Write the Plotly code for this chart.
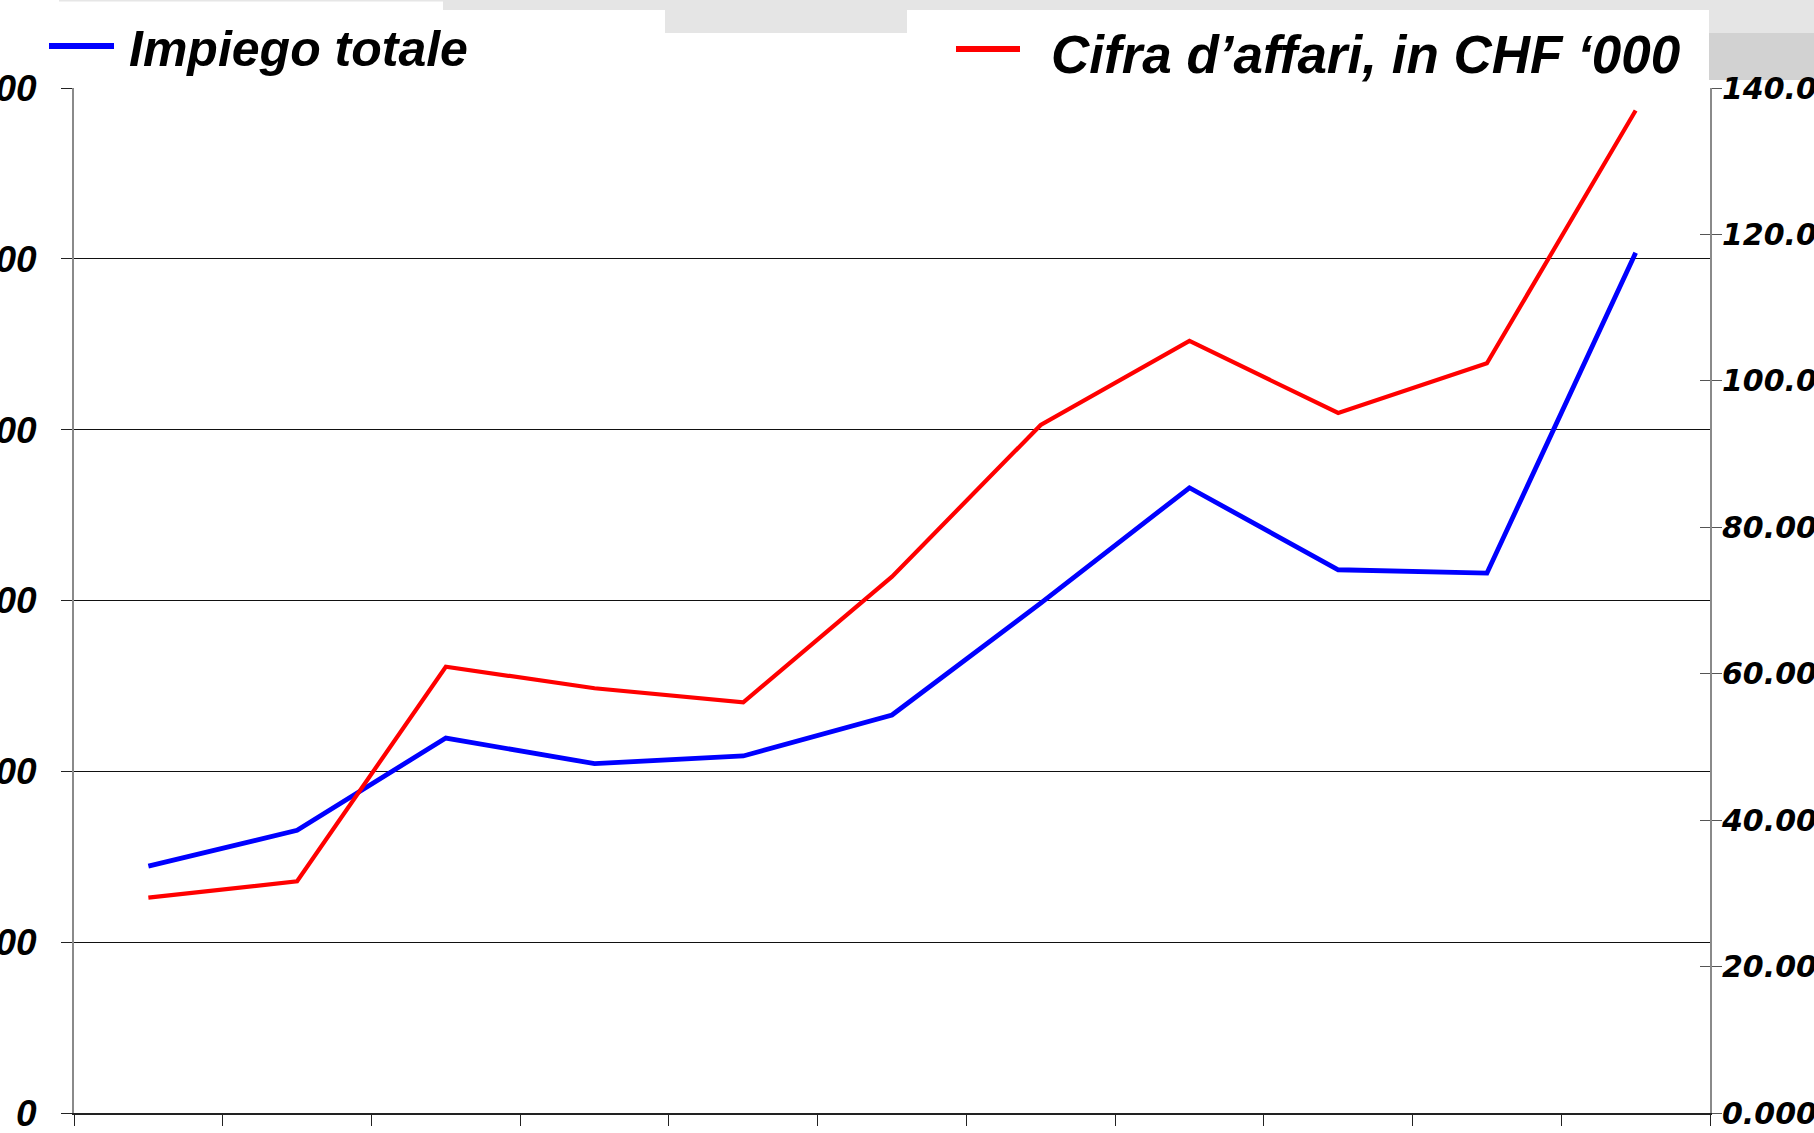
import plotly.graph_objects as go

# ---- data ----
years = ["1995", "1996", "1997", "1998", "1999", "2000", "2001", "2002", "2003", "2004", "2005"]
impiego_totale = [144.5, 165.5, 219.5, 204.5, 209.0, 233.0, 298.5, 366.0, 318.0, 316.0, 503.5]
cifra_affari = [29.41, 31.65, 60.96, 58.01, 56.10, 73.26, 93.98, 105.45, 95.61, 102.40, 136.93]

left_range = [0, 600]
left_dtick = 100
right_range = [0, 140]
right_dtick = 20

# ---- layout geometry (pixels) ----
W, H = 1814, 1133
ML, MR, MT, MB = 74, 104, 88, 20
PW, PH = W - ML - MR, H - MT - MB


def px(x):
    return (x - ML) / PW


def py(y):
    return (H - MB - y) / PH


FONT = "Liberation Sans, Arial, sans-serif"

fig = go.Figure()
fig.add_trace(go.Scatter(x=years, y=impiego_totale, name="Impiego totale", mode="lines",
                         line=dict(color="#0000FF", width=4.8), yaxis="y"))
fig.add_trace(go.Scatter(x=years, y=cifra_affari, name="Cifra d’affari, in CHF ‘000", mode="lines",
                         line=dict(color="#FF0000", width=4.2), yaxis="y2"))

shapes = []


def rect(x0, y0, x1, y1, color, layer="below"):
    shapes.append(dict(type="rect", xref="paper", yref="paper", x0=px(x0), x1=px(x1),
                       y0=py(y1), y1=py(y0), fillcolor=color, line=dict(width=0), layer=layer))


rect(59, 0, 443, 1.5, "#e6e6e6")
rect(443, 0, 1814, 10, "#e5e5e5")
rect(665, 10, 1814, 33, "#e5e5e5")
rect(1709, 33, 1814, 80, "#d2d2d2")
rect(907, 10, 1709, 90, "#ffffff", layer="above")

shapes.append(dict(type="line", xref="paper", yref="paper", x0=px(49), x1=px(114), y0=py(46), y1=py(46),
                   line=dict(color="#0000FF", width=6), layer="above"))
shapes.append(dict(type="line", xref="paper", yref="paper", x0=px(956), x1=px(1020), y0=py(49), y1=py(49),
                   line=dict(color="#FF0000", width=6), layer="above"))

annotations = [
    dict(text="Impiego totale", x=px(127), y=py(49), xref="paper", yref="paper", xanchor="left",
         yanchor="middle", showarrow=False,
         font=dict(family=FONT, size=50, color="black", weight="bold", style="italic")),
    dict(text="Cifra d’affari, in CHF ‘000", x=px(1049), y=py(55), xref="paper", yref="paper",
         xanchor="left", yanchor="middle", showarrow=False,
         font=dict(family=FONT, size=53, color="black", weight="bold", style="italic")),
]

fig.update_layout(
    template="none",
    width=W, height=H,
    margin=dict(l=ML, r=MR, t=MT, b=MB, pad=0),
    paper_bgcolor="white", plot_bgcolor="white",
    showlegend=False,
    shapes=shapes,
    annotations=annotations,
    xaxis=dict(type="category", categoryorder="array", categoryarray=years,
               range=[-0.5, len(years) - 0.5], tickson="boundaries",
               ticks="outside", ticklen=11, tickcolor="#222222", tickwidth=1,
               showticklabels=False, showline=True, linecolor="#222222", linewidth=2,
               showgrid=False, zeroline=False, automargin=False),
    yaxis=dict(range=left_range, dtick=left_dtick, tick0=0, tickformat="d",
               showgrid=True, gridcolor="#111111", gridwidth=1,
               showline=True, linecolor="#8a8a8a", linewidth=2,
               ticks="outside", ticklen=11, tickcolor="#222222",
               ticklabelstandoff=17, ticklabeloverflow="allow",
               tickfont=dict(family=FONT, size=37, color="black", weight="bold", style="italic"),
               zeroline=False, automargin=False),
    yaxis2=dict(range=right_range, dtick=right_dtick, tick0=0, tickformat=".3f",
                overlaying="y", side="right", anchor="x",
                showgrid=False, showline=True, linecolor="#8a8a8a", linewidth=2,
                ticks="outside", ticklen=10, tickcolor="#555555",
                ticklabelstandoff=-6, ticklabeloverflow="allow",
                tickfont=dict(family="DejaVu Sans, sans-serif", size=30, color="black",
                              weight="bold", style="italic"),
                zeroline=False, automargin=False),
    yaxis3=dict(range=right_range, dtick=right_dtick, tick0=0,
                overlaying="y", side="right", anchor="x",
                showgrid=False, showline=False, showticklabels=False,
                ticks="inside", ticklen=10, tickcolor="#555555",
                zeroline=False, automargin=False),
)

# invisible helper trace so the inner tick marks of the right axis are drawn
fig.add_trace(go.Scatter(x=[years[0]], y=[0], yaxis="y3", mode="markers",
                         marker=dict(opacity=0), hoverinfo="skip", showlegend=False))

fig.write_html("out.html", config={"displayModeBar": False},
               post_script="document.body.style.margin='0';document.body.style.overflow='hidden';")
